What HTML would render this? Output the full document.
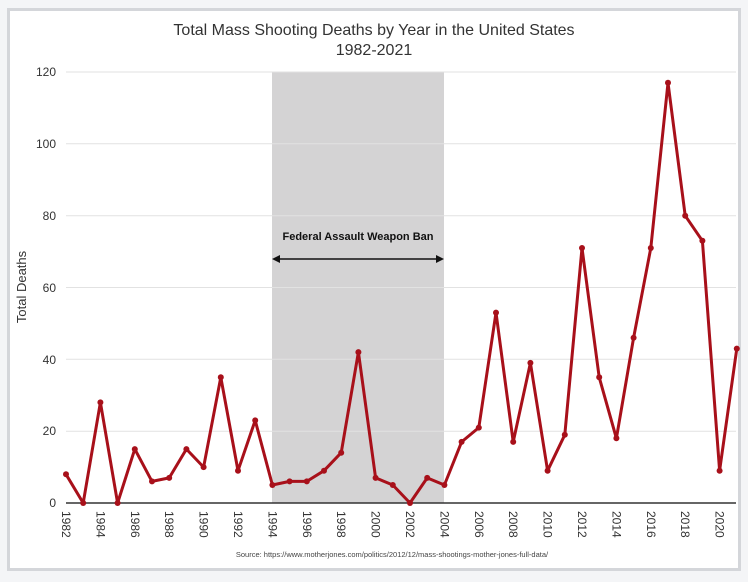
<!DOCTYPE html><html><head><style>body{margin:0;background:#f4f5f7}svg{display:block}</style></head><body>
<svg width="748" height="582" xmlns="http://www.w3.org/2000/svg" font-family="Liberation Sans, sans-serif">
<defs><marker id="m" markerWidth="8" markerHeight="8" refX="4" refY="4" markerUnits="userSpaceOnUse"><circle cx="4" cy="4" r="3" fill="#a8101a"/></marker></defs>
<rect x="0" y="0" width="748" height="582" fill="#f4f5f7"/>
<rect x="8.5" y="9.5" width="731" height="560" fill="#fff" stroke="#d4d6da" stroke-width="3"/>
<text x="374" y="35" font-size="16" text-anchor="middle" fill="#333">Total Mass Shooting Deaths by Year in the United States</text>
<text x="374" y="55" font-size="16" text-anchor="middle" fill="#333">1982-2021</text>
<rect x="272" y="72" width="172" height="431" fill="#d4d3d4"/>
<g stroke="#e2e2e2" stroke-width="1">
<line x1="66" y1="72" x2="736" y2="72"/><line x1="66" y1="143.8" x2="736" y2="143.8"/><line x1="66" y1="215.7" x2="736" y2="215.7"/><line x1="66" y1="287.5" x2="736" y2="287.5"/><line x1="66" y1="359.3" x2="736" y2="359.3"/><line x1="66" y1="431.2" x2="736" y2="431.2"/>
</g>
<line x1="66" y1="503" x2="736" y2="503" stroke="#333" stroke-width="1.5"/>
<g font-size="12" fill="#333" text-anchor="end">
<text x="56" y="76">120</text><text x="56" y="148">100</text><text x="56" y="220">80</text><text x="56" y="292">60</text><text x="56" y="364">40</text><text x="56" y="435">20</text><text x="56" y="507">0</text>
</g>
<text transform="translate(26,287) rotate(-90)" font-size="13" text-anchor="middle" fill="#333">Total Deaths</text>
<g font-size="12" fill="#333">
<text transform="translate(62,511) rotate(90)">1982</text>
<text transform="translate(96.4,511) rotate(90)">1984</text>
<text transform="translate(130.8,511) rotate(90)">1986</text>
<text transform="translate(165.2,511) rotate(90)">1988</text>
<text transform="translate(199.6,511) rotate(90)">1990</text>
<text transform="translate(234,511) rotate(90)">1992</text>
<text transform="translate(268.4,511) rotate(90)">1994</text>
<text transform="translate(302.8,511) rotate(90)">1996</text>
<text transform="translate(337.2,511) rotate(90)">1998</text>
<text transform="translate(371.6,511) rotate(90)">2000</text>
<text transform="translate(406,511) rotate(90)">2002</text>
<text transform="translate(440.4,511) rotate(90)">2004</text>
<text transform="translate(474.8,511) rotate(90)">2006</text>
<text transform="translate(509.2,511) rotate(90)">2008</text>
<text transform="translate(543.6,511) rotate(90)">2010</text>
<text transform="translate(578,511) rotate(90)">2012</text>
<text transform="translate(612.4,511) rotate(90)">2014</text>
<text transform="translate(646.8,511) rotate(90)">2016</text>
<text transform="translate(681.2,511) rotate(90)">2018</text>
<text transform="translate(715.6,511) rotate(90)">2020</text>
</g>
<text x="358" y="240" font-size="11" font-weight="bold" text-anchor="middle" fill="#111">Federal Assault Weapon Ban</text>
<line x1="278" y1="259" x2="438" y2="259" stroke="#111" stroke-width="1.5"/>
<path d="M272 259 l8 -4 v8z M444 259 l-8 -4 v8z" fill="#111"/>
<text x="392" y="557" font-size="7.5" text-anchor="middle" fill="#444">Source: https://www.motherjones.com/politics/2012/12/mass-shootings-mother-jones-full-data/</text>
<polyline fill="none" stroke="#a8101a" stroke-width="3" stroke-linejoin="round" marker-start="url(#m)" marker-mid="url(#m)" marker-end="url(#m)" points="66,474.3 83.2,503 100.4,402.4 117.6,503 134.8,449.1 152,481.4 169.2,477.9 186.4,449.1 203.6,467.1 220.8,377.3 238,470.7 255.2,420.4 272.4,485 289.6,481.4 306.8,481.4 324,470.7 341.2,452.7 358.4,352.1 375.6,477.9 392.8,485 410,503 427.2,477.9 444.4,485 461.6,441.9 478.8,427.6 496,312.6 513.2,441.9 530.4,362.9 547.6,470.7 564.8,434.8 582,248 599.2,377.3 616.4,438.3 633.6,337.8 650.8,248 668,82.8 685.2,215.7 702.4,240.8 719.6,470.7 736.8,348.6"/>
</svg></body></html>
